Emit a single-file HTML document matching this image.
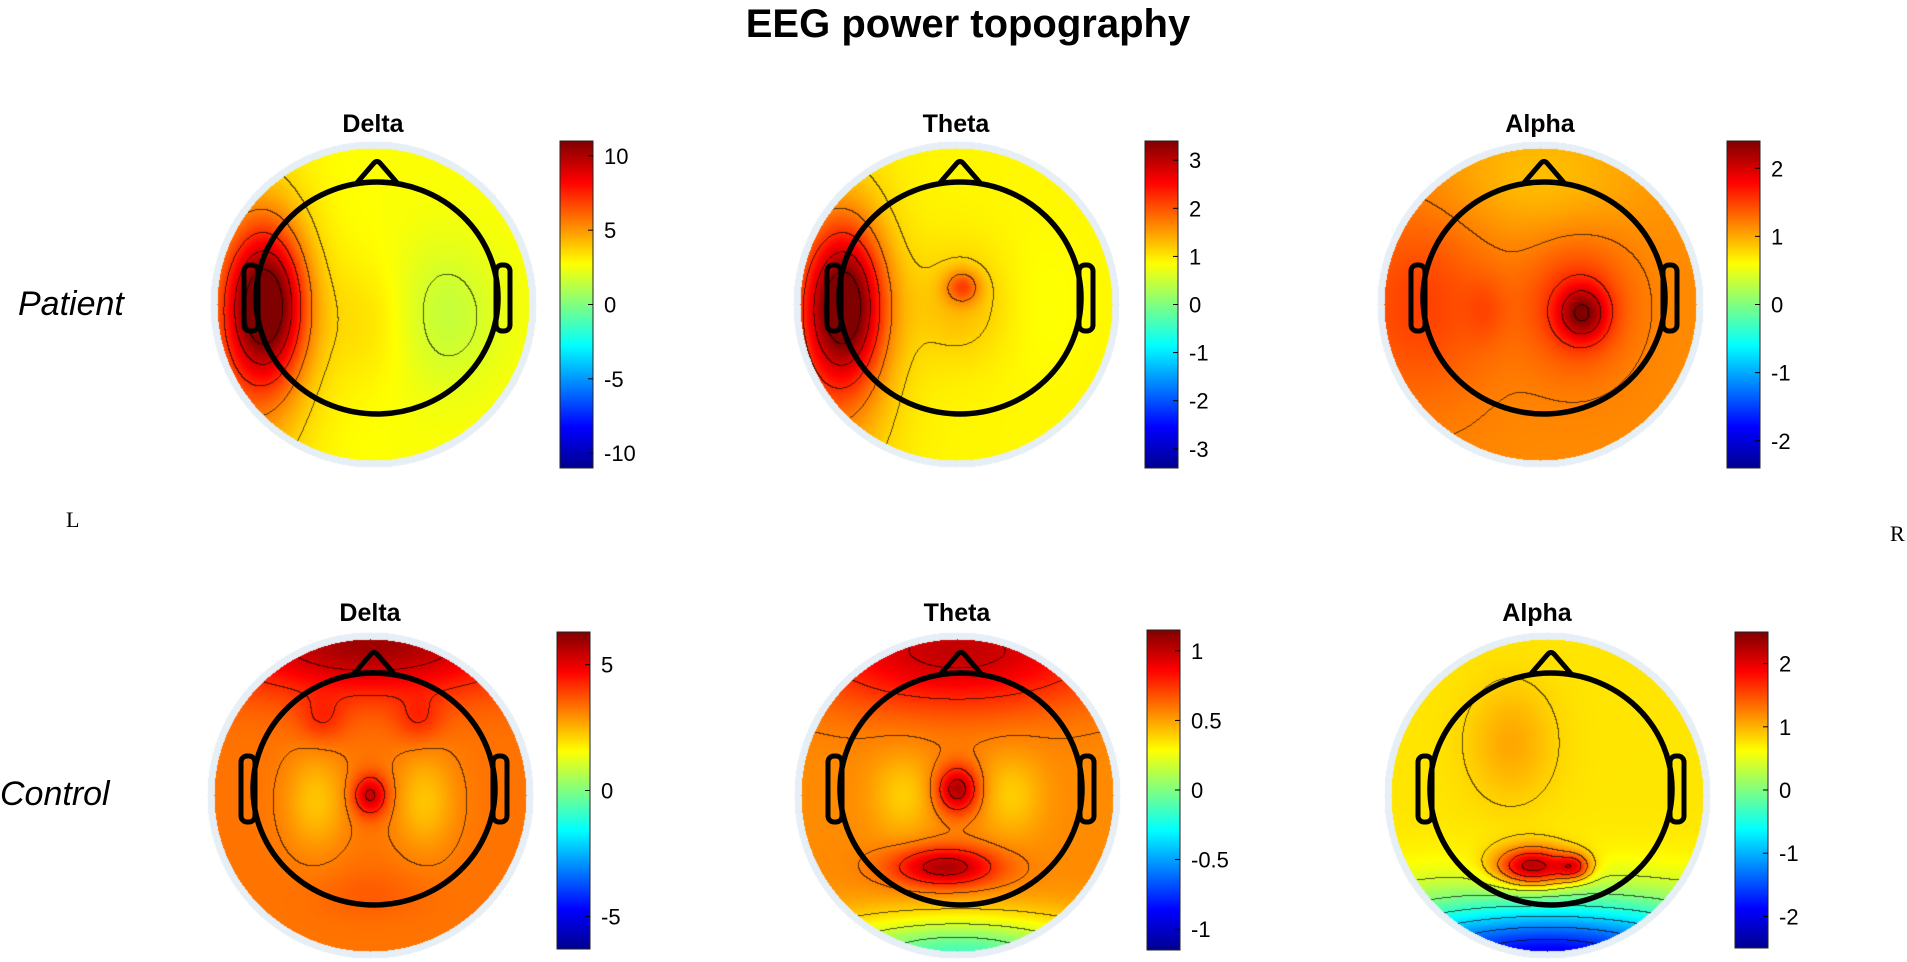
<!DOCTYPE html>
<html><head><meta charset="utf-8"><style>
html,body{margin:0;padding:0;background:#fff;}
#wrap{position:relative;width:1907px;height:962px;overflow:hidden;font-family:"Liberation Sans",sans-serif;}
canvas,svg{position:absolute;left:0;top:0;}
</style></head><body>
<div id="wrap">
<canvas id="cv" width="1907" height="962"></canvas>
<svg id="sv" width="1907" height="962">
<defs>
<linearGradient id="jet" x1="0" y1="1" x2="0" y2="0">
<stop offset="0" stop-color="#00008f"/><stop offset="0.125" stop-color="#0000ff"/><stop offset="0.375" stop-color="#00ffff"/><stop offset="0.5" stop-color="#80ff80"/><stop offset="0.625" stop-color="#ffff00"/><stop offset="0.875" stop-color="#ff0000"/><stop offset="1" stop-color="#800000"/>
</linearGradient>
</defs>
<text x="968" y="37" text-anchor="middle" font-size="40" font-weight="bold">EEG power topography</text>
<text x="18" y="315" font-size="34" font-style="italic">Patient</text>
<text x="0" y="805" font-size="34" font-style="italic">Control</text>
<text x="66" y="527" font-size="22" font-family="Liberation Serif, serif">L</text>
<text x="1890" y="541" font-size="22" font-family="Liberation Serif, serif">R</text>
<g id="layer"></g>
</svg>
</div>
<script>
// Field sources per map: [x, y, amplitude, sigmaX, sigmaY] in head-normalized coords
const bandNames = ["Delta","Theta","Alpha","Delta","Theta","Alpha"];
const mapBase = [2.7, 0.9, 1.15, 3.3, 0.55, 0.75];
const mapLimit = [11, 3.4, 2.4, 6.3, 1.15, 2.5];
const pDeltaSources = [[-0.88,0.0,7.5,0.22,0.45],[-1.05,0.25,3.0,0.35,0.9],[0.55,0.1,-1.3,0.35,0.45],[0.0,0.15,0.9,0.3,0.4]];
const pThetaSources = [[-0.92,0.0,2.2,0.22,0.45],[-1.05,0.3,0.9,0.35,0.9],[0.05,-0.15,0.9,0.1,0.1],[0.05,0.0,0.4,0.3,0.35],[0.6,0.0,-0.1,0.3,0.4]];
const pAlphaSources = [[0.35,0.08,0.9,0.14,0.16],[0.3,0.0,0.45,0.3,0.4],[-1.0,0.0,0.35,0.45,0.6],[0.0,-1.1,-0.25,0.6,0.4],[-0.45,0.05,0.15,0.12,0.2]];
const cDeltaSources = [[0.0,-1.3,2.6,0.9,0.3],[0.0,0.0,2.2,0.1,0.12],[-0.45,0.05,-1.0,0.18,0.3],[0.45,0.05,-1.0,0.18,0.3],[-0.4,-0.65,0.8,0.14,0.14],[0.4,-0.65,0.8,0.14,0.14],[0.0,0.85,0.3,0.3,0.15]];
const cThetaSources = [[0.0,-1.25,0.45,0.9,0.35],[0.0,-0.05,0.5,0.12,0.14],[-0.1,0.62,0.5,0.3,0.12],[0.0,1.4,-0.7,0.9,0.25],[-0.45,0.0,-0.15,0.18,0.25],[0.45,0.0,-0.15,0.18,0.25]];
const cAlphaSources = [[-0.12,0.62,1.7,0.22,0.12],[0.22,0.62,1.0,0.1,0.08],[0.0,1.45,-2.8,1.3,0.38],[-0.3,-0.45,0.3,0.25,0.35]];
const allSources = [pDeltaSources,pThetaSources,pAlphaSources,cDeltaSources,cThetaSources,cAlphaSources];
const tickLabels = [["10","5","0","-5","-10"],["3","2","1","0","-1","-2","-3"],["2","1","0","-1","-2"],["5","0","-5"],["1","0.5","0","-0.5","-1"],["2","1","0","-1","-2"]];
const tickValues = [[10,5,0,-5,-10],[3,2,1,0,-1,-2,-3],[2,1,0,-1,-2],[5,0,-5],[1,0.5,0,-0.5,-1],[2,1,0,-1,-2]];

const layout = [
 {cx:373,cy:304,bx:560,by0:141,by1:468,ty:122},
 {cx:956,cy:304,bx:1145,by0:141,by1:468,ty:122},
 {cx:1540,cy:304,bx:1727,by0:141,by1:468,ty:122},
 {cx:370,cy:795,bx:557,by0:632,by1:949,ty:611},
 {cx:957,cy:795,bx:1147,by0:630,by1:950,ty:611},
 {cx:1547,cy:795,bx:1735,by0:632,by1:948,ty:611}
];
const HRX=121, HRY=116, DR=156;
function jet(t){t=Math.max(0,Math.min(1,t));
 const c=v=>Math.max(0,Math.min(1,v));
 return [c(1.5-Math.abs(4*t-3)),c(1.5-Math.abs(4*t-2)),c(1.5-Math.abs(4*t-1))];}
function field(src,base,u,v){let s=base;for(const p of src){const dx=(u-p[0])/p[3],dy=(v-p[1])/p[4];s+=p[2]*Math.exp(-0.5*(dx*dx+dy*dy));}return s;}

const cv=document.getElementById('cv');const ctx=cv.getContext('2d');
const img=ctx.createImageData(1907,962);const D=img.data;
for(let i=0;i<D.length;i+=4){D[i]=255;D[i+1]=255;D[i+2]=255;D[i+3]=255;}
const NS='http://www.w3.org/2000/svg';
const layer=document.getElementById('layer');
function el(tag,attrs){const e=document.createElementNS(NS,tag);for(const k in attrs)e.setAttribute(k,attrs[k]);layer.appendChild(e);return e;}

for(let m=0;m<6;m++){
 const L=layout[m],src=allSources[m],base=mapBase[m],lim=mapLimit[m];
 const size=2*DR+1;const vals=new Float32Array(size*size);const lev=new Int16Array(size*size);
 const step=lim/6;
 for(let j=0;j<size;j++)for(let i=0;i<size;i++){
  const dx=i-DR,dy=j-DR;const u=dx/HRX,v=dy/HRY;
  const val=field(src,base,u,v);vals[j*size+i]=val;lev[j*size+i]=Math.floor((val+lim)/step);
 }
 for(let j=-DR-8;j<=DR+8;j++)for(let i=-DR-8;i<=DR+8;i++){
  const r=Math.sqrt(i*i+j*j);const X=L.cx+i,Y=L.cy+j;if(X<0||Y<0||X>=1907||Y>=962)continue;
  const o=(Y*1907+X)*4;
  if(r>DR&&r<=DR+7){D[o]=230;D[o+1]=238;D[o+2]=246;continue;}
  if(r>DR)continue;
  const k=(j+DR)*size+(i+DR);
  let col=jet((vals[k]+lim)/(2*lim));
  let dark=false;
  if(i+DR+1<size&&lev[k]!==lev[k+1])dark=true;
  if(j+DR+1<size&&lev[k]!==lev[k+size])dark=true;
  let f=dark?0.35:1;
  D[o]=Math.round(col[0]*255*f);D[o+1]=Math.round(col[1]*255*f);D[o+2]=Math.round(col[2]*255*f);
 }
 const t=el('text',{x:L.cx+(m===5?-10:0),y:L.ty+10,'text-anchor':'middle','font-size':'25','font-weight':'bold'});
 t.textContent=bandNames[m];
 
 
 const g=document.createElementNS(NS,'g');layer.appendChild(g);
 
 
 const hx=L.cx+4,hy=L.cy-6;
 const mk=(tag,a)=>{const e=document.createElementNS(NS,tag);for(const k in a)e.setAttribute(k,a[k]);g.appendChild(e);return e;};
 mk('path',{d:`M${hx-22} ${hy-HRY+3} L${hx-3} ${hy-HRY-19} Q${hx} ${hy-HRY-22} ${hx+3} ${hy-HRY-19} L${hx+22} ${hy-HRY+3}`,fill:'none',stroke:'#000','stroke-width':5,'stroke-linejoin':'round'});
 mk('rect',{x:hx-HRX-12,y:hy-33,width:14,height:66,rx:6,fill:'none',stroke:'#000','stroke-width':5});
 mk('rect',{x:hx+HRX-2,y:hy-33,width:14,height:66,rx:6,fill:'none',stroke:'#000','stroke-width':5});
 mk('ellipse',{cx:hx,cy:hy,rx:HRX,ry:HRY,fill:'none',stroke:'#000','stroke-width':5.5});
 const bar=el('rect',{x:L.bx,y:L.by0,width:33,height:L.by1-L.by0,fill:'url(#jet)',stroke:'#222','stroke-width':1});
 
 
 const yOf=v=>L.by1-(v+lim)/(2*lim)*(L.by1-L.by0);
 tickValues[m].forEach((v,idx)=>{
  const y=yOf(v);
  el('line',{x1:L.bx+28,x2:L.bx+33,y1:y,y2:y,stroke:'#000','stroke-width':1});
  const tx=el('text',{x:L.bx+44,y:y+8,'font-size':'22'});
  tx.textContent=tickLabels[m][idx];
  
  
 });
}
ctx.putImageData(img,0,0);
</script>
</body></html>
